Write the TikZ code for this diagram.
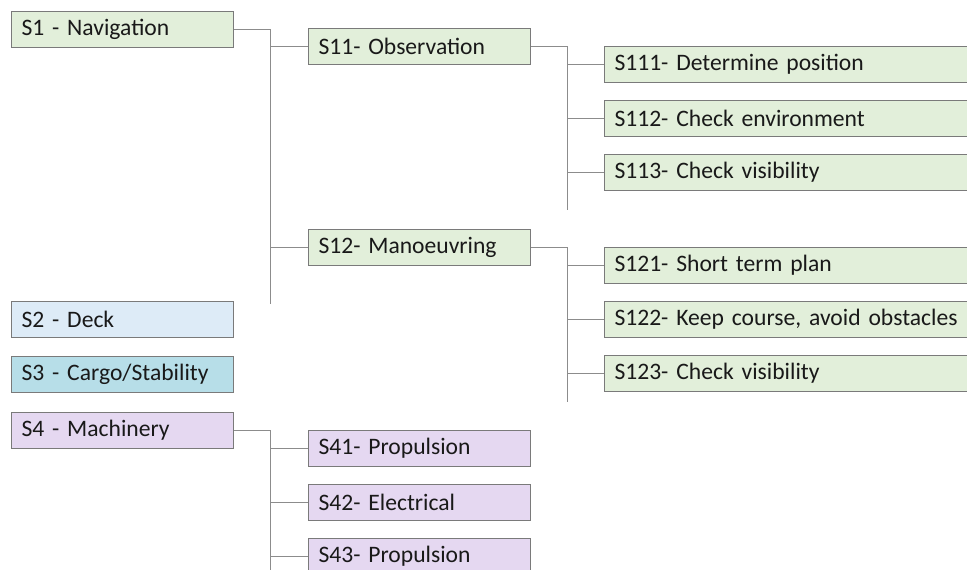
\documentclass[tikz,border=0pt]{standalone}
\usepackage{fontspec}
\setmainfont{Carlito}[WordSpace={0.9,0,0}]
\begin{document}
\begin{tikzpicture}[x=1pt,y=-1pt,
  box/.style={draw=boxline, line width=1pt, minimum height=36pt, anchor=west,
    inner xsep=10pt, inner ysep=0pt, text width=202pt, align=left,
    font=\fontsize{23.6}{28}\selectfont, text=black!90},
  wide/.style={box, text width=360pt},
  nav/.style={fill=navfill}, deck/.style={fill=deckfill},
  cargo/.style={fill=cargofill}, mach/.style={fill=machfill},
  link/.style={draw=linkgray, line width=1pt}]
\definecolor{navfill}{HTML}{E2EFDA}
\definecolor{deckfill}{HTML}{DDEBF7}
\definecolor{cargofill}{HTML}{B7DEE8}
\definecolor{machfill}{HTML}{E5D8F1}
\definecolor{boxline}{HTML}{7A7A7A}
\definecolor{linkgray}{HTML}{8C8C8C}
\clip (0,0) rectangle (967,570);
\useasboundingbox (0,0) rectangle (967,570);

% top level
\node[box,nav]   (s1) at (11,29)  {S1 - Navigation};
\node[box,deck]  (s2) at (11,319) {S2 - Deck};
\node[box,cargo] (s3) at (11,374) {S3 - Cargo/Stability};
\node[box,mach]  (s4) at (11,430) {S4 - Machinery};

% second level
\node[box,nav]  (s11) at (308,46.5)  {S11- Observation};
\node[box,nav]  (s12) at (308,247.5) {S12- Manoeuvring};
\node[box,mach] (s41) at (308,448)   {S41- Propulsion};
\node[box,mach] (s42) at (308,502)   {S42- Electrical};
\node[box,mach] (s43) at (308,556)   {S43- Propulsion};

% third level
\node[wide,nav] (s111) at (604,64.5) {S111- Determine position};
\node[wide,nav] (s112) at (604,118)  {S112- Check environment};
\node[wide,nav] (s113) at (604,172)  {S113- Check visibility};
\node[wide,nav] (s121) at (604,265)  {S121- Short term plan};
\node[wide,nav] (s122) at (604,319)  {S122- Keep course, avoid obstacles};
\node[wide,nav] (s123) at (604,373)  {S123- Check visibility};

% trunk ends
\coordinate (t1) at (270.5,304);
\coordinate (t11) at (567.5,210);
\coordinate (t12) at (567.5,402);
\coordinate (t4) at (270.5,572);

% connectors
\draw[link] (s1.east) -| (t1);
\draw[link] (s11.west) -- (s11.west -| t1);
\draw[link] (s12.west) -- (s12.west -| t1);

\draw[link] (s11.east) -| (t11);
\draw[link] (s111.west) -- (s111.west -| t11);
\draw[link] (s112.west) -- (s112.west -| t11);
\draw[link] (s113.west) -- (s113.west -| t11);

\draw[link] (s12.east) -| (t12);
\draw[link] (s121.west) -- (s121.west -| t12);
\draw[link] (s122.west) -- (s122.west -| t12);
\draw[link] (s123.west) -- (s123.west -| t12);

\draw[link] (s4.east) -| (t4);
\draw[link] (s41.west) -- (s41.west -| t4);
\draw[link] (s42.west) -- (s42.west -| t4);
\draw[link] (s43.west) -- (s43.west -| t4);
\end{tikzpicture}
\end{document}
